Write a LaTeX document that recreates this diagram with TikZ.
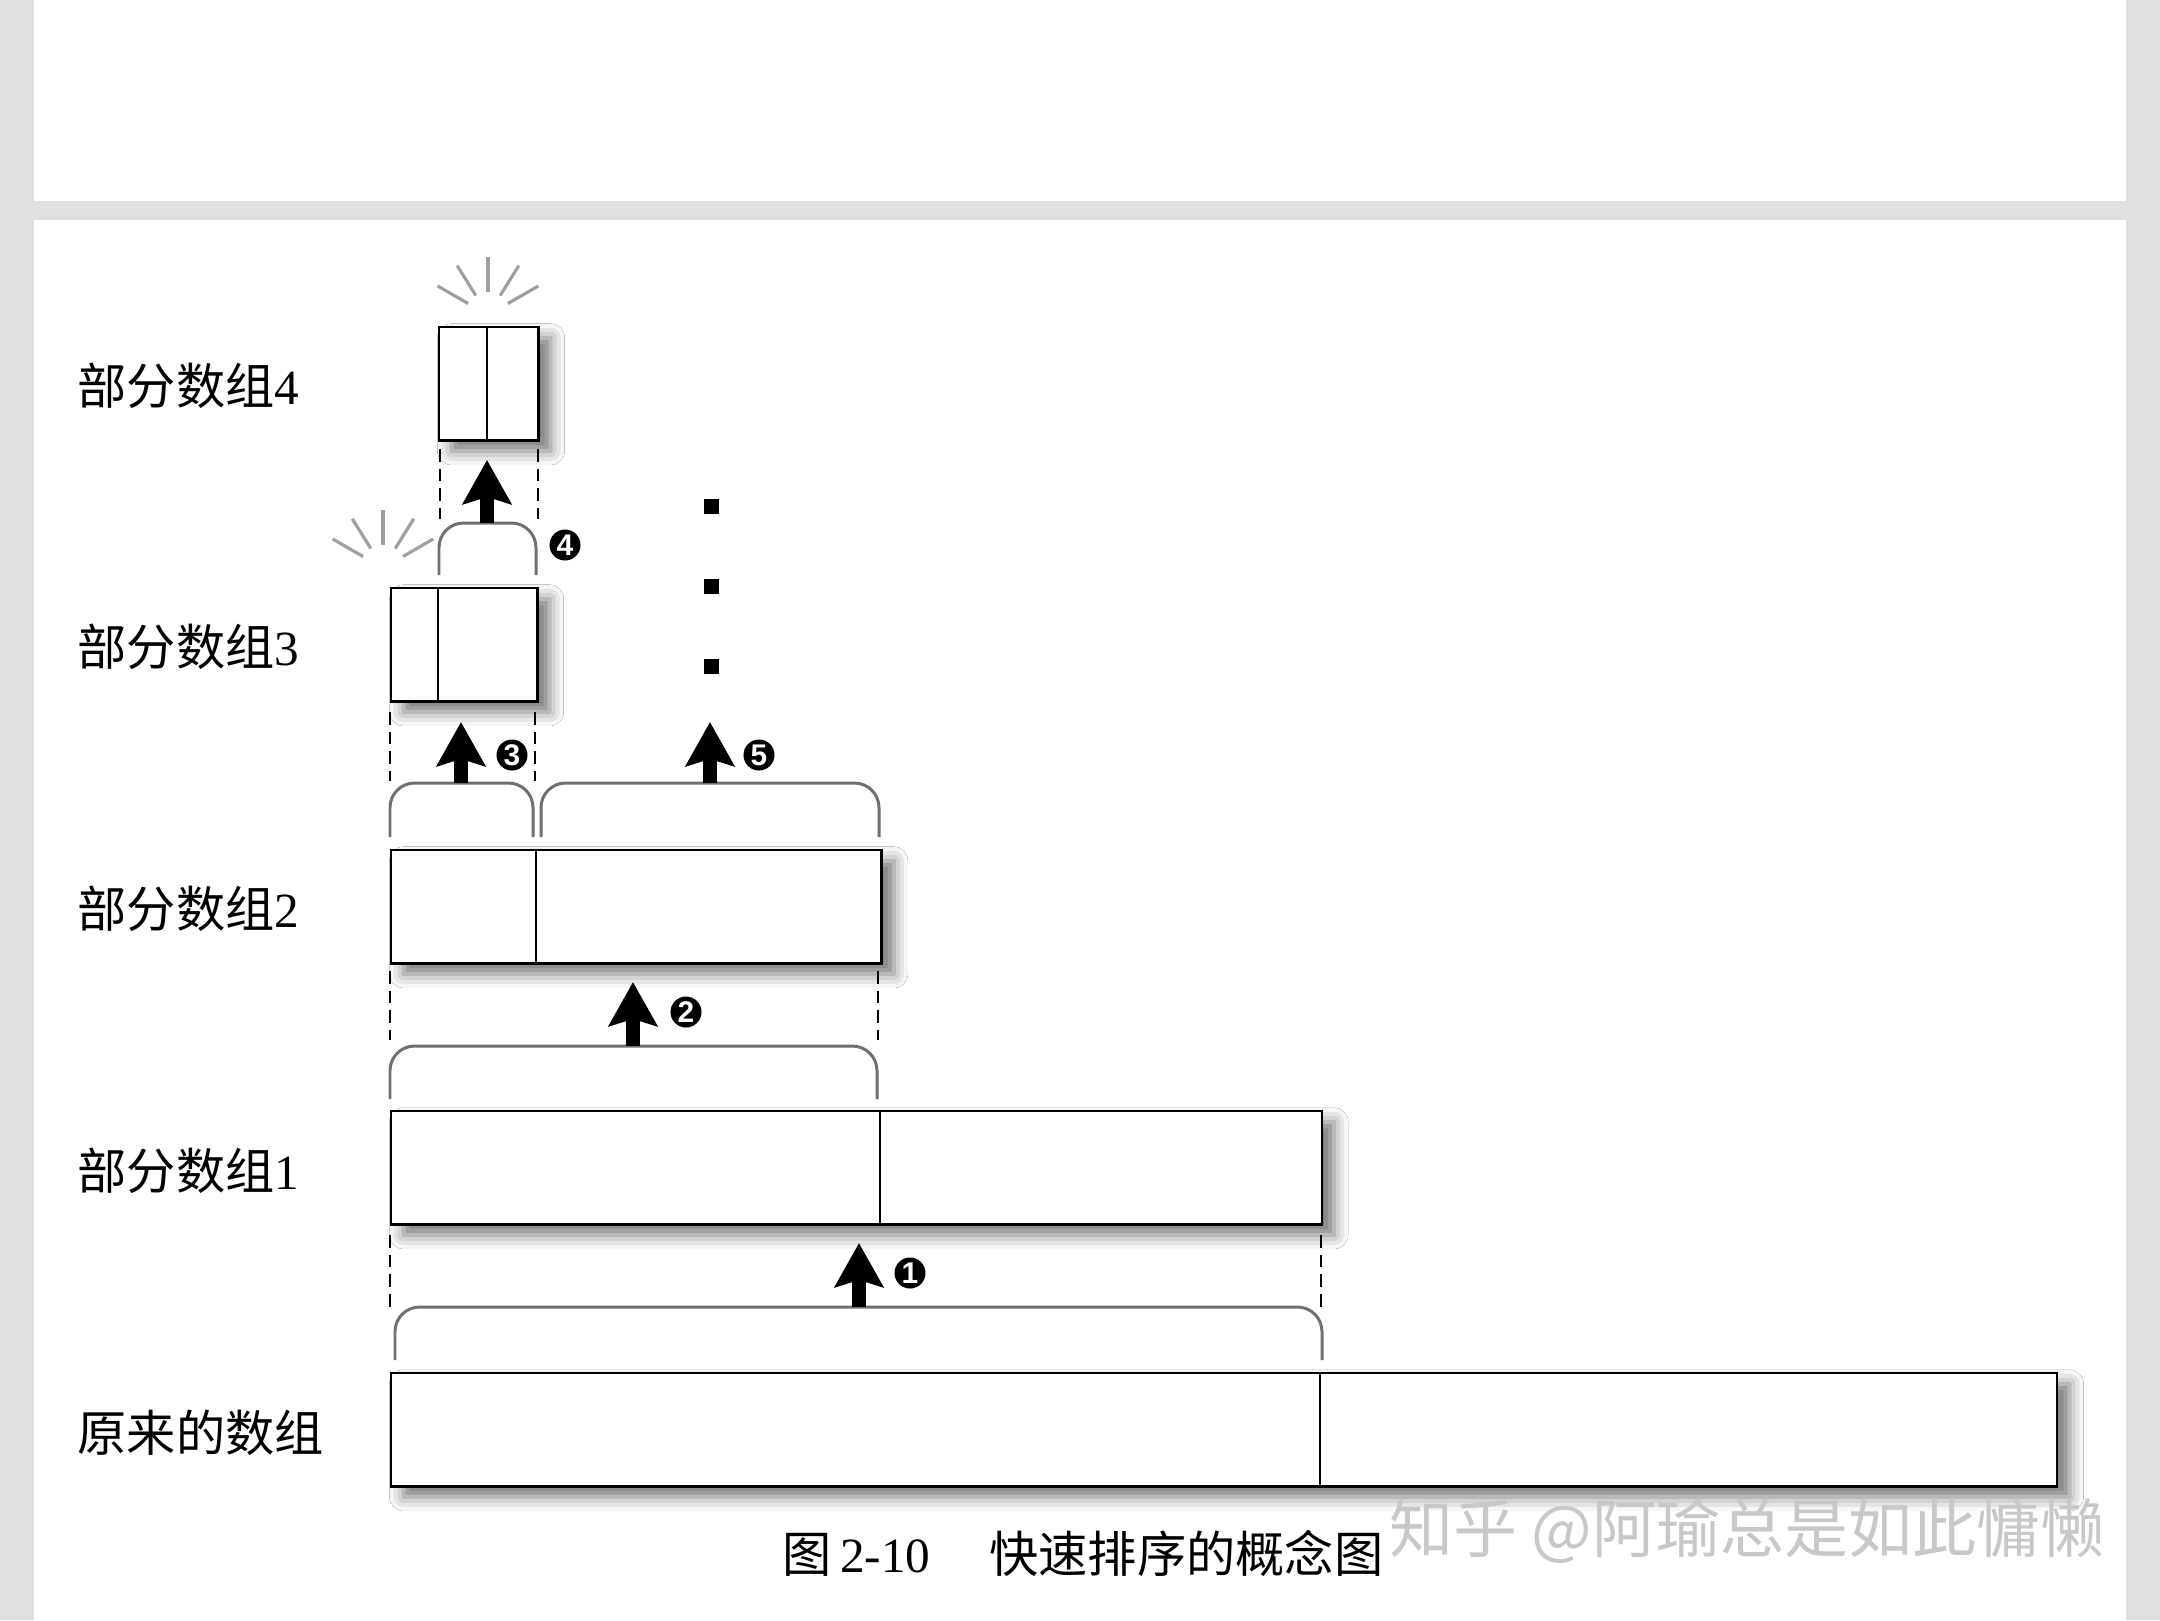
\documentclass[tikz,border=0pt]{standalone}
\usepackage{fontspec}
\setmainfont{Liberation Serif}
\newfontfamily\cjk{Noto Sans CJK SC}
\newfontfamily\numfont{Liberation Sans}
\usetikzlibrary{arrows.meta,shadows.blur}
\definecolor{pagegray}{RGB}{224,224,226}
\definecolor{bracegray}{RGB}{112,112,112}
\definecolor{sparkgray}{RGB}{160,160,160}
\definecolor{wmgray}{RGB}{200,200,200}
\tikzset{
  arrbox/.style={draw=black, line width=0.7pt, fill=white, rectangle, inner sep=0pt,
    anchor=north west,
    blur shadow={shadow xshift=3.5pt, shadow yshift=-3pt, shadow blur radius=4pt, shadow opacity=55}},
  divline/.style={draw=black, line width=0.45pt},
  bracket/.style={draw=bracegray, line width=0.85pt, rounded corners=7pt},
  guide/.style={draw=black, line width=0.65pt, dash pattern=on 3.6pt off 2pt},
  bigarrow/.style={line width=4pt, -{Stealth[length=12.5pt, width=13.7pt, inset=2pt]}},
  stepnum/.style={circle, fill=black, text=white, inner sep=0pt, minimum size=0.31cm,
    font=\numfont\bfseries\fontsize{8.5pt}{9pt}\selectfont},
  rowlabel/.style={anchor=west, inner sep=0pt, font=\fontsize{14pt}{16pt}\selectfont},
  spark/.style={draw=sparkgray, line width=0.9pt},
  dotsq/.style={fill=black, rectangle, inner sep=0pt, minimum size=0.15cm}
}
\begin{document}
\begin{tikzpicture}[x=0.01cm, y=-0.01cm]
\useasboundingbox (0,0) rectangle (2160,1620);
% page background
\fill[pagegray] (0,0) rectangle (2160,1620);
\fill[white] (34,0) rectangle (2126,201);
\fill[white] (34,220) rectangle (2126,1620);

% boxes
\node[arrbox, minimum width=16.65cm, minimum height=1.13cm] (a0) at (390,1372) {};
\node[arrbox, minimum width=9.30cm, minimum height=1.13cm] (a1) at (390,1110) {};
\node[arrbox, minimum width=4.90cm, minimum height=1.13cm] (a2) at (390,849) {};
\node[arrbox, minimum width=1.46cm, minimum height=1.13cm] (a3) at (390,587) {};
\node[arrbox, minimum width=0.99cm, minimum height=1.13cm] (a4) at (438,326) {};

% dividers
\draw[divline] (1320,0 |- a0.north) -- (1320,0 |- a0.south);
\draw[divline] (880,0 |- a1.north) -- (880,0 |- a1.south);
\draw[divline] (536,0 |- a2.north) -- (536,0 |- a2.south);
\draw[divline] (438,0 |- a3.north) -- (438,0 |- a3.south);
\draw[divline] (487,0 |- a4.north) -- (487,0 |- a4.south);

% row labels
\node[rowlabel] (l4) at (77,386) {{\cjk 部分数组}4};
\node[rowlabel] (l3) at (77,647) {{\cjk 部分数组}3};
\node[rowlabel] (l2) at (77,909) {{\cjk 部分数组}2};
\node[rowlabel] (l1) at (77,1171) {{\cjk 部分数组}1};
\node[rowlabel] (l0) at (77,1433) {\cjk 原来的数组};

% brackets
\draw[bracket] (395,1360) -- (395,1307) -- (1322,1307) -- (1322,1360);
\draw[bracket] (390,1099) -- (390,1046) -- (877,1046) -- (877,1099);
\draw[bracket] (390,837) -- (390,783) -- (533,783) -- (533,837);
\draw[bracket] (541,837) -- (541,783) -- (879,783) -- (879,837);
\draw[bracket] (439,575) -- (439,523) -- (536,523) -- (536,575);

% guide lines
\draw[guide] (390,1235) -- (390,1307);
\draw[guide] (1321,1235) -- (1321,1307);
\draw[guide] (390,971) -- (390,1040);
\draw[guide] (878,971) -- (878,1040);
\draw[guide] (390,712) -- (390,781);
\draw[guide] (535,712) -- (535,781);
\draw[guide] (440,449) -- (440,519);
\draw[guide] (538,449) -- (538,519);

% arrows
\coordinate (s1) at (859,1307); \coordinate (t1) at (859,1243);
\coordinate (s2) at (633,1046); \coordinate (t2) at (633,982);
\coordinate (s3) at (461,783);  \coordinate (t3) at (461,722);
\coordinate (s5) at (710,783);  \coordinate (t5) at (710,722);
\coordinate (s4) at (487,523);  \coordinate (t4) at (487,460);
\draw[bigarrow] (s1) -- (t1);
\draw[bigarrow] (s2) -- (t2);
\draw[bigarrow] (s3) -- (t3);
\draw[bigarrow] (s5) -- (t5);
\draw[bigarrow] (s4) -- (t4);

% step numbers
\node[stepnum] (n1) at (910,1273) {1};
\node[stepnum] (n2) at (686,1012) {2};
\node[stepnum] (n3) at (512,755) {3};
\node[stepnum] (n5) at (759,755) {5};
\node[stepnum] (n4) at (565,545) {4};

% continuation dots
\node[dotsq] (d1) at (711,506) {};
\node[dotsq] (d2) at (711,586) {};
\node[dotsq] (d3) at (711,666) {};

% sparkles
\foreach \cx/\cy in {488/315, 383/568} {
  \foreach \ang in {30,58,90,122,150} {
    \draw[spark] (\cx,\cy) ++(\ang:0.23cm) -- ++(\ang:0.35cm);
  }
}

% caption
\node[anchor=west, inner sep=0pt, font=\fontsize{14pt}{16pt}\selectfont] (cap) at (782,1553)
  {{\cjk 图}\,2-10\hspace{1.2em}{\cjk 快速排序的概念图}};
% watermark
\node[anchor=west, inner sep=0pt, text=wmgray, font=\cjk\fontsize{18.2pt}{22pt}\selectfont] (wm) at (1389,1531)
  {知乎 @阿瑜总是如此慵懒};
\end{tikzpicture}
\end{document}
